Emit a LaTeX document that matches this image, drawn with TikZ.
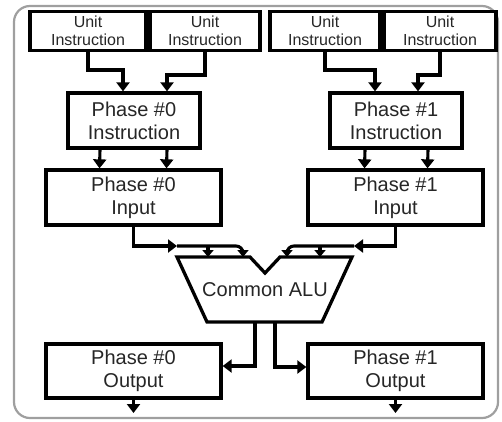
\documentclass[tikz,border=0pt]{standalone}
\usepackage{fontspec}
\setmainfont{Liberation Sans}
\usetikzlibrary{arrows.meta}
\begin{document}
\begin{tikzpicture}[x=1pt,y=-1pt,
  box/.style={draw=black, line width=3.3pt, minimum height=55pt, align=center, inner sep=0pt, text=black!85, font=\fontsize{20}{23}\selectfont},
  unitbox/.style={draw=black, line width=3.3pt, minimum height=39pt, align=center, inner sep=0pt, text=black!85, font=\fontsize{16}{18}\selectfont},
  conn/.style={line width=3.1pt, -{Triangle[width=13pt,length=9pt]}},
  smallarr/.style={line width=3.1pt, -{Triangle[width=11pt,length=7pt]}},
  frame/.style={draw=gray!75, line width=2.2pt, rounded corners=16pt},
  alushape/.style={draw=black, line width=3.3pt, line join=miter}
]
\useasboundingbox (0,0) rectangle (502,421);
\draw[frame] (14,6) rectangle (498,418);

% unit instruction boxes
\node[unitbox, minimum width=116pt] (u1) at (88,31) {Unit\\Instruction};
\node[unitbox, minimum width=110pt] (u2) at (205,31) {Unit\\Instruction};
\node[unitbox, minimum width=110pt] (u3) at (325,31) {Unit\\Instruction};
\node[unitbox, minimum width=112pt] (u4) at (440,31) {Unit\\Instruction};

% phase instruction boxes
\node[box, minimum width=132pt] (i0) at (134,120.5) {Phase \#0\\Instruction};
\node[box, minimum width=132pt] (i1) at (396,120.5) {Phase \#1\\Instruction};

% input boxes
\node[box, minimum width=175pt] (p0) at (133.5,197.5) {Phase \#0\\Input};
\node[box, minimum width=175pt] (p1) at (395.5,197.5) {Phase \#1\\Input};

% output boxes
\node[box, minimum width=175pt, minimum height=54pt] (o0) at (133.5,371) {Phase \#0\\Output};
\node[box, minimum width=175pt, minimum height=54pt] (o1) at (395.5,371) {Phase \#1\\Output};

% ALU
\coordinate (c1) at (177,257);
\coordinate (c2) at (250,257);
\coordinate (c3) at (265,273);
\coordinate (c4) at (280,257);
\coordinate (c5) at (352,257);
\coordinate (c6) at (322,322);
\coordinate (c7) at (207,322);
\draw[alushape] (c1) -- (c2) -- (c3) -- (c4) -- (c5) -- (c6) -- (c7) -- cycle;
\node[text=black!85, font=\fontsize{20}{23}\selectfont] (alu) at (265,290) {Common ALU};

% unit -> phase instruction
\coordinate (j1) at (123,70);
\coordinate (j2) at (167,75);
\coordinate (j3) at (375,70);
\coordinate (j4) at (418,75);
\draw[conn] (u1.south) |- (j1) -- (j1 |- i0.north);
\draw[conn] (u2.south) |- (j2) -- (j2 |- i0.north);
\draw[conn] (u3.south) |- (j3) -- (j3 |- i1.north);
\draw[conn] (u4.south) |- (j4) -- (j4 |- i1.north);

% phase instruction -> input
\draw[conn] ([xshift=-34pt]i0.south) -- ([xshift=-34pt]p0.north);
\draw[conn] ([xshift=33pt]i0.south) -- ([xshift=33pt]p0.north);
\draw[conn] ([xshift=-31pt]i1.south) -- ([xshift=-31pt]p1.north);
\draw[conn] ([xshift=32pt]i1.south) -- ([xshift=32pt]p1.north);

% input -> ALU
\coordinate (m0) at (177,246);
\coordinate (b0) at (208,246);
\coordinate (a1) at (208,257);
\coordinate (a2) at (243,257);
\draw[conn] (p0.south) |- (m0);
\draw[smallarr, rounded corners=7pt] (m0) -| (a2);
\draw[smallarr] (b0) -- (a1);

\coordinate (m1) at (354,246);
\coordinate (b1) at (320,246);
\coordinate (a3) at (320,257);
\coordinate (a4) at (287,257);
\draw[conn] (p1.south) |- (m1);
\draw[smallarr, rounded corners=7pt] (m1) -| (a4);
\draw[smallarr] (b1) -- (a3);

% ALU -> outputs
\coordinate (q0) at (255,322);
\coordinate (q1) at (275,322);
\draw[conn] (q0) |- ([yshift=5pt]o0.east);
\draw[conn] (q1) |- ([yshift=4pt]o1.west);

% outputs onward
\coordinate (e0) at (133.5,413);
\coordinate (e1) at (395.5,413);
\draw[conn] (o0.south) -- (e0);
\draw[conn] (o1.south) -- (e1);
\end{tikzpicture}
\end{document}
